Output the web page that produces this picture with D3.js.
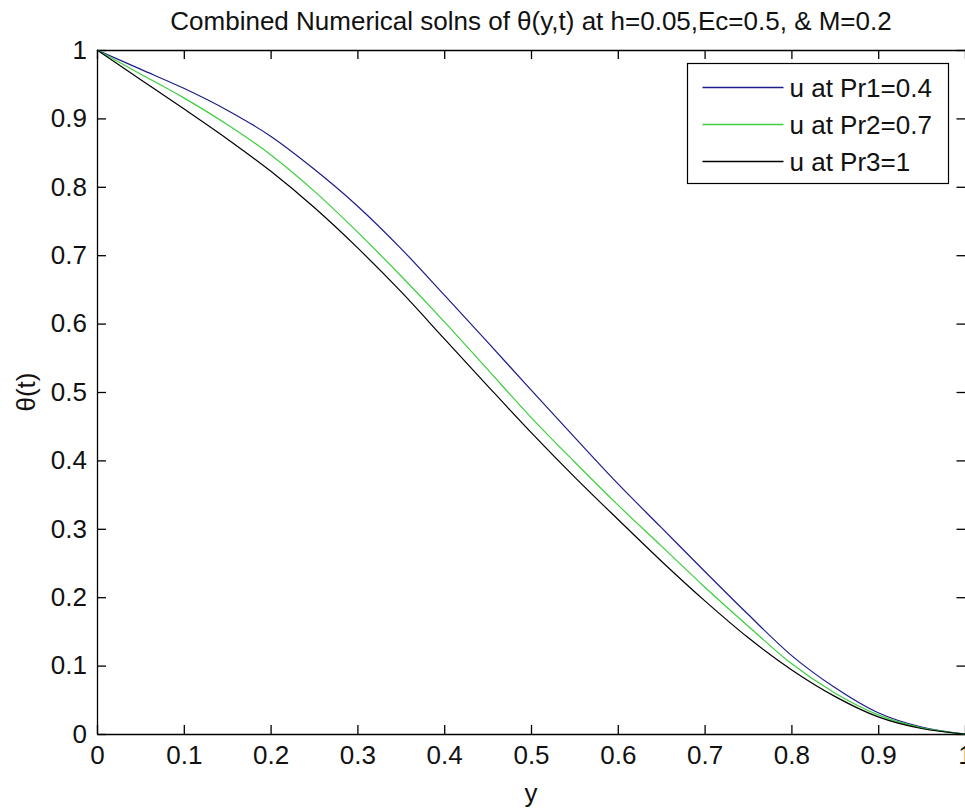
<!DOCTYPE html>
<html>
<head>
<meta charset="utf-8">
<script src="https://cdn.jsdelivr.net/npm/d3@7"></script>
<style>
  html, body { margin: 0; padding: 0; background: #fff; }
  svg { display: block; font-family: "Liberation Sans", Arial, sans-serif; }
</style>
</head>
<body>
<script>
// sample positions along y (0..1)
const yPos = [0, 0.05, 0.1, 0.15, 0.2, 0.25, 0.3, 0.35, 0.4, 0.45, 0.5,
              0.55, 0.6, 0.65, 0.7, 0.75, 0.8, 0.85, 0.9, 0.95, 1];

// theta values
const thetaPr1 = [1.000, 0.972, 0.944, 0.912, 0.874, 0.826, 0.772, 0.710, 0.642, 0.573, 0.503,
                  0.434, 0.366, 0.302, 0.238, 0.175, 0.115, 0.068, 0.031, 0.010, 0.000];
const thetaPr2 = [1.000, 0.965, 0.930, 0.891, 0.847, 0.794, 0.734, 0.670, 0.603, 0.533, 0.463,
                  0.398, 0.335, 0.275, 0.215, 0.158, 0.103, 0.060, 0.028, 0.009, 0.000];
const thetaPr3 = [1.000, 0.957, 0.914, 0.870, 0.823, 0.770, 0.711, 0.647, 0.578, 0.509, 0.441,
                  0.376, 0.314, 0.253, 0.195, 0.141, 0.094, 0.055, 0.025, 0.008, 0.000];

const seriesNames = ['u at Pr1=0.4', 'u at Pr2=0.7', 'u at Pr3=1'];
const seriesColors = ['#1c1c8a', '#3ccf3c', '#000000'];

const xTicks = [0, 0.1, 0.2, 0.3, 0.4, 0.5, 0.6, 0.7, 0.8, 0.9, 1];
const yTicks = [0, 0.1, 0.2, 0.3, 0.4, 0.5, 0.6, 0.7, 0.8, 0.9, 1];

const width = 965;
const height = 809;
const margin = { top: 50, right: 0, bottom: 75, left: 97 };

const svg = d3.select('body')
  .append('svg')
  .attr('width', width)
  .attr('height', height);

const x = d3.scaleLinear()
  .domain([0, 1])
  .range([margin.left, width - margin.right]);

const y = d3.scaleLinear()
  .domain([0, 1])
  .range([height - margin.bottom, margin.top]);

const fontSize = 26;
const tickLen = 9;

// axes (ticks pointing inward, labels on left / bottom only)
const xBottom = svg.append('g')
  .attr('transform', `translate(0,${y(0)})`)
  .call(d3.axisBottom(x).tickValues(xTicks).tickSizeInner(-tickLen).tickSizeOuter(0)
    .tickPadding(12).tickFormat(d3.format('')));

const xTop = svg.append('g')
  .attr('transform', `translate(0,${y(1)})`)
  .call(d3.axisTop(x).tickValues(xTicks).tickSizeInner(-tickLen).tickSizeOuter(0)
    .tickFormat(''));

const yLeft = svg.append('g')
  .attr('transform', `translate(${x(0)},0)`)
  .call(d3.axisLeft(y).tickValues(yTicks).tickSizeInner(-tickLen).tickSizeOuter(0)
    .tickPadding(10).tickFormat(d3.format('')));

const yRight = svg.append('g')
  .attr('transform', `translate(${x(1) + 0.5},0)`)
  .call(d3.axisRight(y).tickValues(yTicks).tickSizeInner(-tickLen).tickSizeOuter(0)
    .tickFormat(''));

[xBottom, xTop, yLeft, yRight].forEach(g => {
  g.selectAll('.domain').attr('stroke', '#000').attr('stroke-width', 1.3);
  g.selectAll('.tick line').attr('stroke', '#000').attr('stroke-width', 1.3);
  g.selectAll('.tick text')
    .attr('fill', '#111')
    .attr('font-size', fontSize)
    .attr('font-family', '"Liberation Sans", Arial, sans-serif');
});

// series lines
const line = d3.line()
  .x(d => x(d[0]))
  .y(d => y(d[1]))
  .curve(d3.curveMonotoneX);

const series = [thetaPr1, thetaPr2, thetaPr3];
series.forEach((vals, i) => {
  svg.append('path')
    .datum(yPos.map((p, j) => [p, vals[j]]))
    .attr('fill', 'none')
    .attr('stroke', seriesColors[i])
    .attr('stroke-width', 1.2)
    .attr('d', line);
});

// legend
const legend = svg.append('g').attr('transform', 'translate(687.5,63.5)');
legend.append('rect')
  .attr('width', 261)
  .attr('height', 120)
  .attr('fill', '#fff')
  .attr('stroke', '#000')
  .attr('stroke-width', 1.2);

seriesNames.forEach((name, i) => {
  const ry = 24 + i * 37;
  legend.append('line')
    .attr('x1', 15).attr('x2', 96)
    .attr('y1', ry).attr('y2', ry)
    .attr('stroke', seriesColors[i])
    .attr('stroke-width', 1.4);
  legend.append('text')
    .attr('x', 102)
    .attr('y', ry + 9)
    .attr('font-size', fontSize)
    .attr('fill', '#111')
    .text(name);
});

// title and axis labels
svg.append('text')
  .attr('x', (x(0) + x(1)) / 2)
  .attr('y', 30)
  .attr('text-anchor', 'middle')
  .attr('font-size', fontSize)
  .attr('fill', '#111')
  .text('Combined Numerical solns of θ(y,t) at h=0.05,Ec=0.5, & M=0.2');

svg.append('text')
  .attr('x', (x(0) + x(1)) / 2)
  .attr('y', 802)
  .attr('text-anchor', 'middle')
  .attr('font-size', fontSize)
  .attr('fill', '#111')
  .text('y');

svg.append('text')
  .attr('transform', `translate(35,${(y(0) + y(1)) / 2}) rotate(-90)`)
  .attr('text-anchor', 'middle')
  .attr('font-size', fontSize)
  .attr('fill', '#111')
  .text('θ(t)');
</script>
</body>
</html>
